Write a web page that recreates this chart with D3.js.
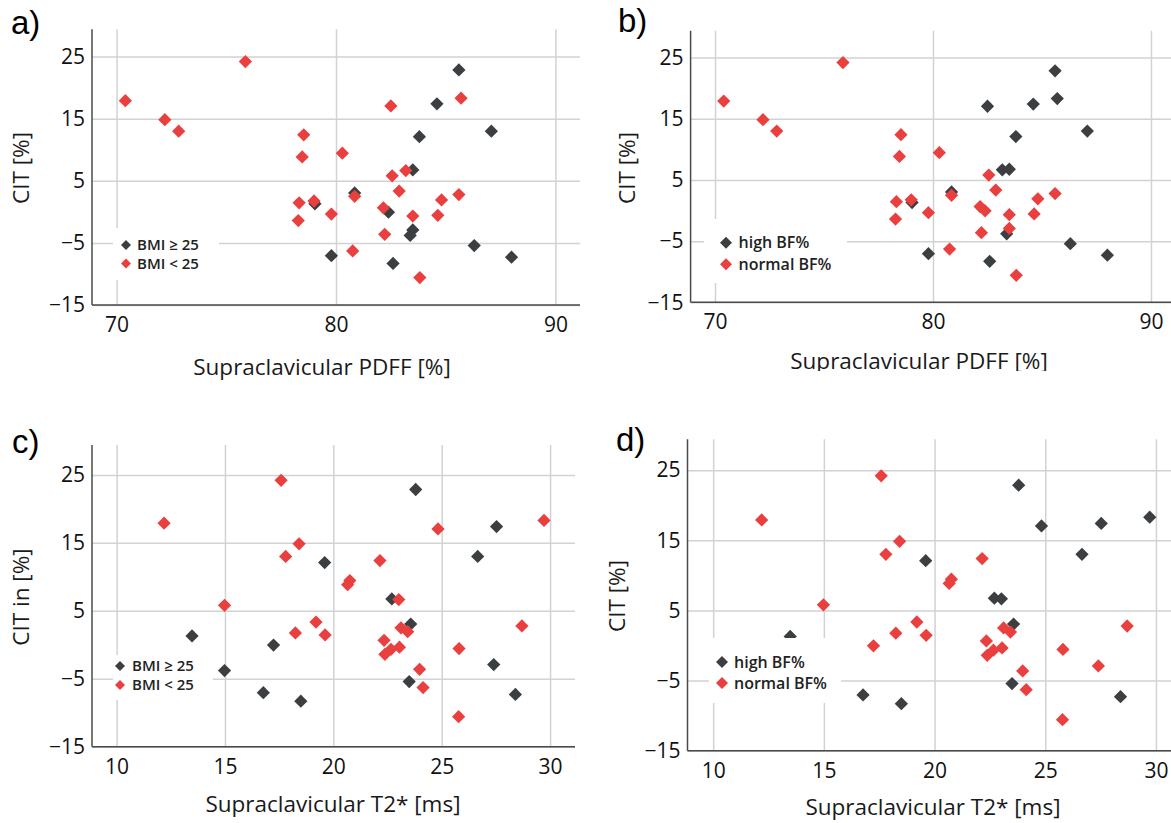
<!DOCTYPE html>
<html>
<head>
<meta charset="utf-8">
<script src="https://cdn.jsdelivr.net/npm/d3@7"></script>
<style>
  body { margin: 0; background: #fff; }
  svg { display: block; font-family: "Open Sans", sans-serif; }
</style>
</head>
<body>
<div id="chart"></div>
<script>
// one entry per subject (same order in every array)
const pdff   = [75.87, 70.4, 72.2, 72.83, 85.6, 85.7, 82.5, 84.6, 87.08, 83.8,
                78.53, 78.46, 80.29, 83.18, 83.5, 82.56, 82.88, 85.6, 80.85, 80.85,
                79.0, 79.04, 78.32, 84.81, 82.16, 82.39, 79.79, 83.5, 84.64, 78.28,
                83.5, 83.38, 82.22, 86.3, 79.79, 82.6, 88.0, 80.76, 83.82];
const t2star = [17.59, 12.19, 18.42, 17.8, 23.8, 29.72, 24.83, 27.53, 26.66, 19.6,
                22.15, 20.66, 20.76, 23.02, 22.7, 14.98, 19.2, 28.7, 23.12, 23.57,
                18.25, 13.48, 19.62, 23.43, 22.34, 17.24, 23.05, 22.66, 25.8, 22.38,
                27.4, 14.98, 23.98, 23.5, 16.77, 18.5, 28.4, 24.14, 25.78];
const cit    = [24.2, 17.9, 14.85, 13.0, 22.85, 18.3, 17.05, 17.4, 13.0, 12.1,
                12.4, 8.85, 9.45, 6.65, 6.75, 5.8, 3.35, 2.78, 2.5, 3.05,
                1.75, 1.3, 1.45, 1.92, 0.65, -0.05, -0.35, -0.67, -0.56, -1.4,
                -2.92, -3.8, -3.62, -5.42, -7.05, -8.3, -7.3, -6.3, -10.58];
// 1 = BMI >= 25, 0 = BMI < 25
const bmiHigh = [0, 0, 0, 0, 1, 0, 0, 1, 1, 1,
                 0, 0, 0, 0, 1, 0, 0, 0, 0, 1,
                 0, 1, 0, 0, 0, 1, 0, 0, 0, 0,
                 1, 1, 0, 1, 1, 1, 1, 0, 0];
// 1 = high BF%, 0 = normal BF%
const bfHigh  = [0, 0, 0, 0, 1, 1, 1, 1, 1, 1,
                 0, 0, 0, 1, 1, 0, 0, 0, 0, 1,
                 0, 1, 0, 0, 0, 0, 0, 0, 0, 0,
                 0, 1, 0, 1, 1, 1, 1, 0, 0];

const bmiLabels = ["BMI ≥ 25", "BMI < 25"];
const bfLabels  = ["high BF%", "normal BF%"];
const pdffTicks = [70, 80, 90];
const t2Ticks   = [10, 15, 20, 25, 30];
const citTicks  = [-15, -5, 5, 15, 25];

const colDark = "#3c3f41", colRed = "#e9403f";

const svg = d3.select("#chart").append("svg")
  .attr("width", 1171)
  .attr("height", 823);

// panel layouts (pixel positions)
const panels = [
  { tag: "a)", tagX: 11, tagY: 34, xs: pdff, grp: bmiHigh, labels: bmiLabels,
    xDomain: [68.88, 91.12], xTicks: pdffTicks, left: 92, right: 580, top: 29.3, bottom: 305,
    xTitle: "Supraclavicular PDFF [%]", xTitleX: 322, xTitleY: 375,
    yTitle: "CIT [%]", yTitleX: 29, yTitleY: 168,
    leg: { x: 113, y: 228, w: 106, h: 52, sx: 126, sy: [245, 263.5], r: 5, tx: 137, fs: 15 } },
  { tag: "b)", tagX: 618, tagY: 32, xs: pdff, grp: bfHigh, labels: bfLabels,
    xDomain: [68.88, 91.12], xTicks: pdffTicks, left: 690.6, right: 1175.4, top: 30.7, bottom: 302.3,
    xTitle: "Supraclavicular PDFF [%]", xTitleX: 919, xTitleY: 369, clipY: 371,
    yTitle: "CIT [%]", yTitleX: 635, yTitleY: 168,
    leg: { x: 704, y: 219, w: 143, h: 64, sx: 726, sy: [242.7, 264.3], r: 6, tx: 738.5, fs: 16 } },
  { tag: "c)", tagX: 12, tagY: 453, xs: t2star, grp: bmiHigh, labels: bmiLabels,
    xDomain: [8.865, 31.15], xTicks: t2Ticks, left: 92, right: 575, top: 445, bottom: 746.7,
    xTitle: "Supraclavicular T2* [ms]", xTitleX: 333, xTitleY: 812,
    yTitle: "CIT in [%]", yTitleX: 29, yTitleY: 597,
    leg: { x: 113, y: 655, w: 100, h: 45, sx: 120, sy: [666, 685], r: 5, tx: 132, fs: 15 } },
  { tag: "d)", tagX: 616, tagY: 451, xs: t2star, grp: bfHigh, labels: bfLabels,
    xDomain: [8.84, 31.2], xTicks: t2Ticks, left: 687.5, right: 1182.5, top: 439.3, bottom: 750.7,
    xTitle: "Supraclavicular T2* [ms]", xTitleX: 933, xTitleY: 815,
    yTitle: "CIT [%]", yTitleX: 625, yTitleY: 596,
    leg: { x: 709, y: 638, w: 132, h: 65, sx: 722, sy: [662, 683], r: 6, tx: 734, fs: 16 } }
];

const diamond = d3.symbol().type(d3.symbolSquare);

function drawPanel(p, idx) {
  const x = d3.scaleLinear().domain(p.xDomain).range([p.left, p.right]);
  const y = d3.scaleLinear().domain([-15, 29.4]).range([p.bottom, p.top]);
  const g = svg.append("g");

  // grid + tick labels via the axes
  const gx = g.append("g")
    .attr("transform", "translate(0," + p.bottom + ")")
    .call(d3.axisBottom(x).tickValues(p.xTicks).tickSize(-(p.bottom - p.top)).tickPadding(12));
  const gy = g.append("g")
    .attr("transform", "translate(" + p.left + ",0)")
    .call(d3.axisLeft(y).tickValues(citTicks).tickSize(-(p.right - p.left)).tickPadding(7));
  [gx, gy].forEach(a => {
    a.select(".domain").remove();
    a.selectAll("line").attr("stroke", "#d2d2d2").attr("stroke-width", 1.5);
    a.selectAll("text").attr("font-size", 21).attr("fill", "#111")
      .attr("font-family", "'Open Sans', sans-serif");
  });

  // axis lines
  g.append("line").attr("x1", p.left).attr("x2", p.left).attr("y1", p.top).attr("y2", p.bottom)
    .attr("stroke", "#4a4a4a").attr("stroke-width", 1.5);
  g.append("line").attr("x1", p.left).attr("x2", p.right).attr("y1", p.bottom).attr("y2", p.bottom)
    .attr("stroke", "#4a4a4a").attr("stroke-width", 1.5);

  // points: dark group first, red on top
  const idxs = d3.range(cit.length);
  const order = idxs.filter(i => p.grp[i] === 1).concat(idxs.filter(i => p.grp[i] === 0));
  g.append("g").selectAll("path")
    .data(order)
    .join("path")
    .attr("d", diamond.size(88)())
    .attr("transform", i => "translate(" + x(p.xs[i]) + "," + y(cit[i]) + ") rotate(45)")
    .attr("fill", i => p.grp[i] === 1 ? colDark : colRed);

  // legend
  const L = p.leg;
  const lg = g.append("g");
  lg.append("rect").attr("x", L.x).attr("y", L.y).attr("width", L.w).attr("height", L.h).attr("fill", "#fff");
  [colDark, colRed].forEach((c, k) => {
    lg.append("path")
      .attr("d", d3.symbol().type(d3.symbolSquare).size(2 * L.r * L.r)())
      .attr("transform", "translate(" + L.sx + "," + L.sy[k] + ") rotate(45)")
      .attr("fill", c);
    lg.append("text")
      .attr("x", L.tx).attr("y", L.sy[k]).attr("dy", "0.35em")
      .attr("font-size", L.fs).attr("font-weight", 600).attr("fill", "#222")
      .text(p.labels[k]);
  });

  // titles
  let xt = g.append("text")
    .attr("x", p.xTitleX).attr("y", p.xTitleY)
    .attr("text-anchor", "middle").attr("font-size", 22.5).attr("fill", "#1a1a1a")
    .text(p.xTitle);
  if (p.clipY) {
    svg.append("clipPath").attr("id", "clip" + idx)
      .append("rect").attr("x", 0).attr("y", 0).attr("width", 1171).attr("height", p.clipY);
    xt.attr("clip-path", "url(#clip" + idx + ")");
  }
  g.append("text")
    .attr("transform", "translate(" + p.yTitleX + "," + p.yTitleY + ") rotate(-90)")
    .attr("text-anchor", "middle").attr("font-size", 22.5).attr("fill", "#1a1a1a")
    .text(p.yTitle);

  g.append("text")
    .attr("x", p.tagX).attr("y", p.tagY)
    .attr("font-family", "'Liberation Sans', Arial, sans-serif")
    .attr("font-size", 33).attr("fill", "#000")
    .text(p.tag);
}

panels.forEach(drawPanel);
</script>
</body>
</html>
